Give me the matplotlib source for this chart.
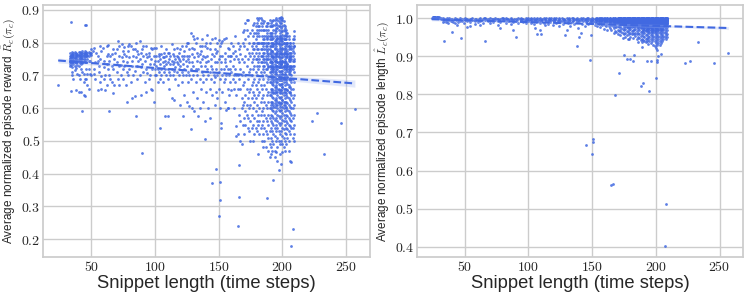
import numpy as np
import seaborn as sns
from matplotlib import pyplot as plt
from matplotlib.ticker import FuncFormatter, MultipleLocator

# values: (snippet length, [values at that length])
reward_short = [
    (24, [.671]), (33, [.735, .742, .728, .750]), (34, [.863, .653, .740, .745, .731, .748]),
    (35, [.737, .725, .755, .700, .712]), (36, [.745, .760, .690, .735, .748]),
    (37, [.742, .730, .752, .718]), (38, [.655, .745, .738, .760, .722]),
    (39, [.740, .748, .733, .705]), (40, [.745, .700, .760, .650, .728]),
    (41, [.748, .738, .690, .752]), (42, [.745, .650, .735, .755, .72]),
    (43, [.592, .742, .768, .750, .71]), (44, [.640, .745, .758, .705, .68]),
    (45, [.855, .636, .74, .77, .69]), (46, [.855, .76, .69, .72]), (47, [.67, .75, .705]),
    (48, [.72, .76, .66]), (49, [.705, .745]), (50, [.70, .78, .77]),
    (52, [.783, .72, .705]), (53, [.74, .69]), (55, [.743, .76, .655]), (56, [.71, .73]),
    (57, [.68, .75]), (58, [.697, .775, .66]), (60, [.727, .745, .69]), (61, [.70, .655]),
    (62, [.79, .735, .67]), (63, [.793, .72]), (64, [.59, .745, .70]), (65, [.758, .69]),
    (66, [.73, .68, .765]), (67, [.645, .72]), (68, [.672, .75]), (70, [.78, .71, .74]),
    (71, [.804, .69]), (72, [.73, .76, .67]), (73, [.732, .70]), (74, [.795, .755]),
    (75, [.745, .69, .72]), (76, [.788, .73]), (77, [.67, .76]), (78, [.62, .74, .71]),
    (79, [.775, .70]), (80, [.755, .72]), (81, [.68, .79]), (82, [.63, .745, .73]),
    (83, [.76, .70]), (84, [.636, .78, .715]), (85, [.575, .755, .80]), (86, [.73, .69]),
    (87, [.765, .745]), (88, [.804, .70, .75]), (89, [.725, .64]), (90, [.462, .78, .735]),
    (91, [.71, .76]), (92, [.745, .68]), (93, [.65, .79, .72]), (94, [.707, .755]),
    (95, [.77, .69]), (96, [.735, .70]), (97, [.66, .75]), (98, [.656, .72, .78]),
    (99, [.62, .735, .76]), (100, [.70, .745, .72]),
]
# the tight clump around 0.75 at the short end, plus the upper scatter up to 100
reward_short_clump = [
    (33, [.752, .745, .768, .76]), (34, [.758, .737, .764, .757]), (35, [.748, .762, .771, .766]),
    (36, [.753, .741, .769, .761]), (37, [.757, .747, .765, .772]), (38, [.751, .764, .769]),
    (39, [.756, .744, .767, .761]), (40, [.762, .75, .771]), (41, [.744, .758, .765, .772]),
    (42, [.761, .749, .768]), (43, [.755, .739, .762, .774]), (44, [.763, .751, .77]),
    (45, [.748, .757, .766, .775]), (46, [.766, .742, .771]), (47, [.759, .768, .762]),
    (48, [.744, .773]), (49, [.766, .77]), (50, [.762]), (51, [.775]),
    (54, [.77]), (57, [.79]), (59, [.785]), (62, [.76]), (63, [.765]), (67, [.78]), (69, [.77]),
    (72, [.79]), (75, [.775]), (76, [.765]), (79, [.79]), (80, [.795]), (83, [.78]), (86, [.775]),
    (89, [.77]), (91, [.79]), (93, [.765]), (95, [.76]), (97, [.785]), (99, [.785]),
]
reward_mid = [
    (101, [.73, .70, .76]), (102, [.745, .68, .72]), (103, [.76, .71]), (104, [.54, .735, .75, .69]),
    (105, [.72, .765, .70]), (106, [.74, .68, .755]), (107, [.73, .71, .77]), (108, [.576, .745, .72]),
    (109, [.76, .70, .735]), (110, [.575, .74, .72, .77, .69]), (111, [.75, .71, .66]),
    (112, [.735, .76, .70]), (113, [.72, .745, .63]), (114, [.765, .70, .735]),
    (115, [.626, .74, .715, .78]), (116, [.75, .69, .725]), (117, [.71, .76, .74]),
    (118, [.735, .67, .755]), (119, [.72, .77, .70]), (120, [.745, .61, .73, .78]),
    (121, [.71, .76, .68]), (122, [.576, .735, .75, .70]), (123, [.76, .72, .64]),
    (124, [.745, .70, .79]), (125, [.73, .62, .76]), (126, [.80, .71, .68, .75]),
    (127, [.606, .74, .70, .78]), (128, [.535, .83, .72, .69]), (129, [.765, .60, .74]),
    (130, [.82, .70, .73, .65]), (131, [.59, .755, .78]), (132, [.72, .68, .80]),
    (133, [.815, .745, .63, .70]), (134, [.576, .76, .72]), (135, [.69, .79, .74, .60]),
    (136, [.73, .66, .775]), (137, [.81, .71, .75]), (138, [.76, .62, .70, .68]),
    (139, [.505, .56, .79, .73]), (140, [.74, .69, .80, .65]), (141, [.823, .72, .76]),
    (142, [.60, .70, .745]), (143, [.57, .78, .71, .66]), (144, [.75, .69, .73]),
    (145, [.37, .81, .72, .64]), (146, [.76, .70, .68]), (147, [.813, .74, .61, .695]),
    (148, [.415, .77, .72, .65]), (149, [.80, .70, .74, .63]), (150, [.27, .808, .71, .66, .75]),
    (151, [.32, .375, .76, .69, .60]), (152, [.555, .54, .74, .72, .80]),
    (153, [.70, .76, .65]), (154, [.81, .72, .68]), (155, [.75, .69, .74, .62]),
    (156, [.596, .813, .70, .73]), (157, [.60, .60, .66, .76, .72]), (158, [.78, .70, .64]),
    (159, [.745, .68, .72]), (160, [.80, .71, .655, .76]), (161, [.73, .69, .77]),
    (162, [.66, .75, .70, .60]), (163, [.82, .72, .68]), (164, [.515, .545, .76, .70, .64]),
    (165, [.24, .52, .75, .70, .66]), (166, [.33, .425, .58, .74, .69, .78]),
    (167, [.50, .72, .79, .66, .56]), (168, [.49, .60, .75, .70, .63]),
    (169, [.833, .80, .71, .55, .67, .61]), (170, [.79, .74, .68, .57, .52, .84, .62]),
    (171, [.86, .81, .76, .70, .64, .59, .55]), (172, [.869, .84, .78, .73, .66, .61, .58]),
    (173, [.87, .82, .75, .69, .63, .57, .54]), (174, [.80, .77, .71, .65, .60, .53]),
    (175, [.83, .76, .72, .66, .61, .56, .50]),
]
# upper band of the middle scatter
reward_mid_upper = [
    (101, [.785]), (103, [.765]), (105, [.79]), (107, [.755]), (109, [.78]), (111, [.77]),
    (113, [.795]), (115, [.76]), (117, [.785]), (119, [.75]), (121, [.79]), (123, [.775]),
    (125, [.80]), (127, [.76]), (129, [.785]), (131, [.81]), (133, [.77]), (135, [.765]),
    (137, [.79]), (139, [.755]), (141, [.785]), (143, [.80]), (145, [.765]), (147, [.78]),
    (149, [.775]), (151, [.79]), (153, [.805]), (155, [.77]), (157, [.785]), (159, [.76]),
    (161, [.79]), (163, [.775]), (165, [.80]), (167, [.765]),
]
reward_dense = [
    (176, [.79, .74, .70, .67, .63, .58, .54]),
    (177, [.82, .78, .72, .68, .65, .60, .55, .50]),
    (178, [.80, .76, .73, .69, .64, .62, .57, .52]),
    (179, [.85, .81, .77, .71, .67, .63, .59, .54]),
    (180, [.875, .84, .80, .75, .70, .66, .61, .56, .53]),
    (181, [.87, .83, .78, .74, .72, .68, .64, .58, .55, .46]),
    (182, [.875, .85, .82, .77, .73, .69, .65, .60, .56, .52]),
    (183, [.86, .80, .76, .71, .67, .62, .58, .54]),
    (184, [.85, .82, .78, .74, .70, .66, .63, .59, .55, .50]),
    (185, [.86, .81, .77, .72, .69, .64, .60, .56, .52, .48]),
    (186, [.84, .80, .75, .71, .67, .62, .58, .54, .50]),
    (187, [.85, .82, .78, .74, .70, .66, .61, .57, .53, .48]),
    (188, [.86, .83, .79, .75, .72, .68, .64, .60, .56, .52, .325]),
    (189, [.84, .80, .76, .73, .69, .65, .62, .58, .55, .51, .47]),
    (190, [.87, .83, .79, .75, .71, .68, .64, .60, .57, .53, .49, .45]),
    (191, [.86, .83, .81, .79, .76, .74, .72, .70, .68, .66, .64, .62, .60, .58, .56, .54, .51, .48, .46]),
    (192, [.85, .82, .80, .775, .755, .735, .715, .695, .675, .655, .635, .615, .595, .575, .555, .53, .50, .47]),
    (193, [.87, .84, .815, .79, .77, .75, .73, .71, .69, .67, .65, .63, .61, .59, .57, .55, .52, .49, .38]),
    (194, [.855, .83, .805, .785, .765, .745, .725, .705, .685, .665, .645, .625, .605, .585, .565, .54, .515, .47, .45]),
    (195, [.86, .835, .81, .79, .77, .75, .73, .71, .69, .67, .65, .63, .61, .59, .57, .55, .53, .50, .465]),
    (196, [.87, .845, .82, .80, .78, .76, .74, .72, .70, .68, .66, .64, .62, .60, .58, .56, .54, .51, .48, .44]),
    (197, [.865, .84, .815, .795, .775, .755, .735, .715, .695, .675, .655, .635, .615, .595, .575, .555, .53, .50, .41]),
    (198, [.875, .85, .83, .81, .79, .77, .75, .73, .71, .69, .67, .65, .63, .61, .59, .57, .55, .52, .49, .46]),
    (199, [.88, .86, .835, .815, .795, .775, .755, .735, .715, .695, .675, .655, .635, .615, .595, .575, .555, .53, .50, .43]),
    (200, [.87, .85, .825, .805, .785, .765, .745, .725, .705, .685, .665, .645, .625, .605, .585, .565, .54, .515, .49, .465]),
    (201, [.865, .84, .82, .80, .78, .76, .74, .72, .70, .68, .66, .64, .62, .60, .58, .56, .535, .51, .48]),
    (202, [.85, .835, .81, .79, .77, .75, .73, .71, .69, .67, .65, .63, .61, .59, .57, .55, .525, .50, .47]),
    (203, [.84, .82, .80, .78, .76, .74, .72, .70, .68, .66, .64, .62, .60, .58, .56, .54, .52, .49]),
    (204, [.83, .80, .775, .755, .735, .715, .695, .675, .655, .635, .615, .595, .575, .555, .535, .51]),
    (205, [.82, .79, .77, .75, .73, .71, .69, .67, .65, .63, .61, .59, .57, .55, .53, .50, .47]),
    (206, [.80, .77, .745, .725, .705, .685, .665, .645, .625, .605, .585, .565, .545, .52, .44]),
    (207, [.78, .75, .72, .70, .68, .66, .64, .62, .60, .58, .56, .54, .437, .18]),
    (208, [.81, .76, .73, .69, .66, .63, .60, .57, .54, .51, .232]),
    (209, [.835, .82, .79, .75, .71, .68, .64, .61, .58, .55, .52, .50]),
]
# upper half of the dense block, which is more crowded than the lower half
reward_dense_top = [
    (176, [.84, .77]), (177, [.855, .80, .75]), (178, [.86, .83, .78]), (179, [.83, .79, .75]),
    (180, [.86, .82, .78, .73]), (181, [.85, .80, .76]), (182, [.84, .80, .75]),
    (183, [.875, .84, .78, .74]), (184, [.87, .80, .76]),
    (185, [.84, .79, .75, .80, .76, .73]), (186, [.865, .82, .78, .73, .81, .77, .74]),
    (187, [.84, .80, .76, .79, .75, .72]), (188, [.85, .81, .77, .815, .775, .735]),
    (189, [.86, .82, .78, .75, .80, .765, .725]), (190, [.85, .81, .77, .73, .82, .78, .74]),
    (191, [.85, .82, .775, .745, .71, .80, .765, .725]), (192, [.865, .83, .79, .76, .725, .81, .775, .74]),
    (193, [.855, .80, .76, .72, .68, .795, .755, .72]), (194, [.87, .84, .795, .755, .715, .82, .78, .745]),
    (195, [.875, .845, .80, .76, .72, .68, .805, .765, .73]), (196, [.855, .81, .77, .73, .69, .815, .775, .74]),
    (197, [.875, .85, .805, .765, .725, .685, .80, .76, .725]), (198, [.86, .82, .78, .74, .70, .82, .785, .745]),
    (199, [.87, .845, .805, .765, .725, .685, .81, .77, .735]),
    (200, [.875, .835, .795, .755, .715, .675, .815, .78, .74]),
    (201, [.855, .81, .77, .73, .69, .80, .765, .725]), (202, [.845, .825, .785, .745, .705, .81, .775, .735]),
    (203, [.83, .81, .77, .73, .69, .795, .755, .72]), (204, [.82, .79, .765, .725, .80, .765, .73]),
    (205, [.81, .78, .76, .72, .79, .75, .72]), (206, [.80, .76, .755, .715, .785, .75]),
    (207, [.79, .77, .73, .69, .76, .725]), (208, [.80, .785, .745, .775, .72]),
    (209, [.81, .77, .73, .79, .745]),
]
# solid middle of the dense block
reward_dense_mid = [
    (191, [.73, .69, .65, .61]), (192, [.74, .70, .66, .62]), (193, [.725, .685, .645, .605]),
    (194, [.735, .695, .655, .615]), (195, [.745, .705, .665, .625]), (196, [.73, .69, .65, .61]),
    (197, [.74, .70, .66, .62]), (198, [.725, .685, .645, .605]), (199, [.735, .695, .655, .615]),
    (200, [.745, .705, .665, .625]), (201, [.73, .69, .65, .61]), (202, [.74, .70, .66, .62]),
    (203, [.725, .685, .645, .605]), (204, [.735, .695, .655]), (205, [.745, .705, .665]),
    (206, [.73, .69, .65]),
]
reward_far = [(223, [.56]), (227, [.585]), (233, [.46]), (246, [.555]), (257, [.597])]

length_short = [
    (24, [1.0]), (25, [1.003, 1.002]), (26, [1.004, 1.003]), (27, [1.003, 1.004]),
    (28, [1.002, 1.003]), (29, [1.003]), (30, [1.002, 1.0]), (31, [1.0, .998]),
    (33, [.995, .99, .999]), (34, [.94, .993, .998]), (35, [.996, .99]), (36, [.999, .992]),
    (37, [.997, .988]), (38, [.994, .999]), (39, [.991, .997]), (40, [.963, .998, .993]),
    (41, [.996, .99]), (42, [.999, .986]), (43, [.994, .997]), (44, [.981, .998]),
    (45, [.995, .99]), (46, [.999, .993]), (47, [.949, .996]), (48, [.992, .998]),
    (49, [.997, .987]), (50, [.995, .999]), (51, [.997]), (52, [.976, .998, .993]),
    (53, [.996]), (54, [.997, .978, .99]), (55, [.998]), (56, [.999, .994]), (57, [.995]),
    (58, [.992, .998, .985]), (59, [.997]), (60, [.996, .99]), (61, [.998]),
    (62, [.999, .993, .983]), (63, [.996]), (64, [.997, .988]), (65, [.999]),
    (66, [.995, .939, .999]), (67, [.997]), (68, [.998, .991]), (69, [.996]),
    (70, [.993, .999, .986]), (71, [.998]), (72, [.997, .99]), (73, [.995]), (74, [.999, .994]),
    (75, [.997]), (76, [.992, .998, .983]), (77, [.996]), (78, [.973, .997, .99]), (79, [.999]),
    (80, [.999, .995]), (81, [.997]), (82, [.996, .988, .999]), (83, [.998]), (84, [.993, .998]),
    (85, [.996]), (86, [.985, .997, .999]), (87, [.995]), (88, [.97, .995, .99]), (89, [.998]),
    (90, [.95, .998, .993]), (91, [.996]), (92, [.999, .987]), (93, [.997]),
    (94, [.996, .992, .999]), (95, [.998]), (96, [.99, .997]), (97, [.995]),
    (98, [.999, .994, .986]), (99, [.997]), (100, [.996, .991, .999]),
]
length_mid = [
    (101, [.998, .992]), (102, [.995, .999, .987]), (103, [.997, .989]), (104, [.999, .994, .984]),
    (105, [.973, .996]), (106, [.998, .99]), (107, [.958, .995, .999]), (108, [.993, .997]),
    (109, [.97, .999, .986]), (110, [.958, .996, .991]), (111, [.998, .994]), (112, [.999, .988]),
    (113, [.995, .997, .982]), (114, [.999, .992]), (115, [.996, .985]), (116, [.998, .993, .999]),
    (117, [.99, .997]), (118, [.999, .994]), (119, [.983, .996]), (120, [.998, .991, .999]),
    (121, [.994, .997]), (122, [.999, .987]), (123, [.996, .992]), (124, [.998, .98, .999]),
    (125, [.995, .989]), (126, [.999, .993]), (127, [.997, .985]), (128, [.998, .994, .99]),
    (129, [.956, .996]), (130, [.999, .968, .991]), (131, [.997, .986]), (132, [.998, .993, .999]),
    (133, [.995, .978]), (134, [.999, .99]), (135, [.996, .992, .999]), (136, [.998, .984]),
    (137, [.994, .997]), (138, [.926, .999, .989]), (139, [.996, .975]), (140, [.95, .998, .992]),
    (141, [.96, .994, .999]), (142, [.997, .985]), (143, [.999, .991]), (144, [.995, .998, .98]),
    (145, [.667, .997, .99]), (146, [.999, .993]), (147, [.996, .985, .999]),
    (148, [.891, .998, .99]), (149, [.956, .996, .993]), (150, [.644, .999, .988, .995]),
    (151, [.674, .684, .997, .992]), (152, [.998, .99, .983]),
    (153, [.999, .994, .986]), (154, [.997, .99, .98]), (155, [.999, .993, .985]),
    (156, [.996, .988, .976]), (157, [.999, .992, .984]), (158, [.997, .99, .981]),
    (159, [.999, .995, .986, .972]), (160, [.998, .991, .983]), (161, [.996, .989, .978]),
    (162, [.999, .993, .985, .97]), (163, [.997, .99, .98]), (164, [.999, .994, .987, .975]),
    (165, [.561, .998, .991, .982, .968]), (166, [.564, .999, .995, .988, .978]),
    (167, [.997, .992, .984, .974, .962]), (168, [.799, .999, .994, .987, .979, .966]),
    (169, [.998, .992, .985, .976, .963]), (170, [.999, .995, .988, .98, .97, .958]),
    (171, [.857, .998, .992, .985, .976, .965]), (172, [.999, .994, .987, .979, .969, .955]),
    (173, [.998, .991, .984, .975, .964]), (174, [.999, .995, .989, .981, .972, .96, .948]),
    (175, [.903, .998, .992, .985, .977, .968, .957]),
]
length_dense = [
    (176, [.999, .994, .988, .98, .971, .962, .95]),
    (177, [.892, .998, .991, .984, .976, .966, .955]),
    (178, [.999, .995, .989, .982, .973, .963, .946]),
    (179, [.998, .992, .985, .977, .968, .958, .945]),
    (180, [.893, .999, .995, .988, .98, .972, .962, .95]),
    (181, [.998, .991, .984, .976, .967, .957]),
    (182, [.887, .999, .994, .987, .979, .97, .96, .948]),
    (183, [.904, .998, .992, .985, .977, .968, .958]),
    (184, [.999, .995, .989, .981, .972, .962, .952]),
    (185, [.998, .991, .984, .976, .967, .957, .944]),
    (186, [.999, .994, .988, .98, .971, .961, .95, .938]),
    (187, [.998, .992, .985, .977, .968, .958, .947]),
    (188, [.822, .999, .995, .989, .981, .973, .964, .954, .942]),
    (189, [.923, .998, .991, .984, .976, .967, .957, .946, .936]),
    (190, [.83, .999, .994, .988, .98, .972, .963, .953, .943]),
    (191, [.998, .992, .985, .977, .969, .96, .95, .94]),
    (192, [.999, .995, .989, .982, .974, .965, .956, .946, .936]),
    (193, [.887, .998, .991, .984, .976, .968, .959, .949, .939]),
    (194, [.999, .994, .988, .98, .972, .963, .954, .944, .932]),
    (195, [.808, .998, .992, .985, .977, .969, .96, .951, .941]),
    (196, [.888, .999, .995, .989, .981, .973, .964, .955, .945, .934]),
    (197, [.998, .991, .984, .976, .968, .959, .95, .94]),
    (198, [.999, .994, .988, .98, .972, .963, .954, .944, .93]),
    (199, [.998, .992, .985, .977, .969, .96, .951, .941, .928]),
    (200, [.844, .999, .995, .989, .981, .973, .964, .955, .945, .935, .922]),
    (201, [.884, .889, .998, .991, .984, .976, .968, .959, .95, .94, .93, .915]),
    (202, [.999, .994, .988, .98, .972, .963, .954, .944, .934, .9]),
    (203, [.998, .992, .985, .977, .969, .96, .951, .941, .93]),
    (204, [.999, .995, .989, .981, .973, .964, .955, .945, .935, .905]),
    (205, [.998, .991, .984, .976, .968, .959, .95, .94]),
    (206, [.999, .994, .988, .98, .972, .963, .954, .944]),
    (207, [.403, .998, .992, .985, .977, .969, .96, .951]),
    (208, [.513, .999, .995, .989, .981, .973, .964, .955, .946]),
    (209, [.998, .991, .984, .976, .968, .959, .95]),
]
# the solid strip just under 1.0 in the dense block
length_dense_top = [
    (170, [.997, .993, .99]), (171, [.999, .996, .989]), (172, [.997, .991, .984]),
    (173, [.999, .995, .988]), (174, [.997, .992, .986]), (175, [.999, .996, .989]),
    (176, [.997, .991, .985, .982]), (177, [.999, .995, .988, .98]), (178, [.997, .992, .986, .978]),
    (179, [.999, .996, .989, .981]), (180, [.997, .991, .984, .977]), (181, [.999, .995, .988, .981]),
    (182, [.997, .991, .985, .98]), (183, [.999, .995, .989, .982]), (184, [.997, .992, .986, .978]),
    (185, [.999, .995, .988, .981]), (186, [.997, .991, .985, .976]), (187, [.999, .995, .989, .98]),
    (188, [.997, .992, .985, .977]), (189, [.999, .995, .988, .98]),
    (190, [.997, .992, .985, .976, .97]), (191, [.999, .995, .989, .981, .973]),
    (192, [.997, .992, .985, .978, .969]), (193, [.999, .995, .988, .98, .972]),
    (194, [.997, .991, .984, .976, .967]), (195, [.999, .995, .989, .981, .973]),
    (196, [.997, .992, .985, .977, .969]), (197, [.999, .995, .988, .98, .972, .964]),
    (198, [.997, .991, .984, .976, .968]), (199, [.999, .995, .989, .981, .973, .965]),
    (200, [.997, .992, .985, .977, .969]), (201, [.999, .995, .988, .98, .972]),
    (202, [.997, .991, .984, .976, .968]), (203, [.999, .995, .989, .981, .973]),
    (204, [.997, .992, .985, .977, .969]), (205, [.999, .995, .988, .98, .972]),
    (206, [.997, .991, .984, .976]), (207, [.999, .995, .988, .98]),
    (208, [.997, .992, .985]), (209, [.999, .995, .988]),
]
# the many overlapping points that sit right at the ceiling
length_ceiling = [
    (153, [.9985, .996]), (154, [.999, .995]), (155, [.9975, .993]), (156, [.999, .996]),
    (157, [.998, .994]), (158, [.9995, .996]), (159, [.998, .993]), (160, [.999, .9965]),
    (161, [.998, .994]), (162, [.9995, .996]), (163, [.998, .993]), (164, [.999, .996]),
    (165, [.998, .994, .99]), (166, [.9995, .996, .991]), (167, [.998, .994, .989]),
    (168, [.999, .996, .99]), (169, [.998, .994, .988]),
    (170, [.9995, .998, .996, .994, .992, .99, .987]), (171, [.999, .997, .995, .993, .991, .988, .986]),
    (172, [.9995, .998, .996, .993, .99, .987, .985]), (173, [.999, .997, .995, .992, .989, .986]),
    (174, [.9995, .998, .996, .994, .991, .988, .985]), (175, [.999, .997, .995, .993, .99, .987]),
    (176, [.9995, .998, .996, .994, .992, .989, .986, .983, .9985, .9965, .9945, .992]),
    (177, [.999, .997, .995, .993, .99, .987, .984, .998, .996, .9935, .991]),
    (178, [.9995, .998, .996, .994, .991, .988, .985, .982, .9985, .9955, .993]),
    (179, [.999, .997, .995, .993, .99, .987, .984, .998, .9965, .994, .9915]),
    (180, [.9995, .998, .996, .994, .992, .989, .986, .983, .9985, .996, .9935]),
    (181, [.999, .997, .995, .993, .991, .988, .985, .998, .9955, .994, .991]),
    (182, [.9995, .998, .996, .994, .991, .989, .986, .983, .9985, .9965, .993]),
    (183, [.999, .997, .995, .993, .99, .987, .984, .998, .996, .9935, .9915]),
    (184, [.9995, .998, .996, .994, .992, .989, .986, .982, .9985, .9955, .994]),
    (185, [.999, .997, .995, .993, .99, .988, .985, .998, .9965, .9935, .991]),
    (186, [.9995, .998, .996, .994, .991, .989, .986, .983, .9985, .996, .994]),
    (187, [.999, .997, .995, .993, .99, .987, .984, .998, .9955, .9935, .9915]),
    (188, [.9995, .998, .996, .994, .992, .989, .986, .983, .9985, .9965, .994]),
    (189, [.999, .997, .995, .993, .991, .988, .985, .998, .996, .9935, .991]),
    (190, [.9995, .998, .996, .994, .992, .99, .987, .984, .981, .9985, .9955, .9935, .9915]),
    (191, [.999, .997, .995, .993, .991, .988, .986, .983, .98, .998, .9965, .994, .992]),
    (192, [.9995, .998, .996, .994, .992, .989, .987, .984, .981, .9985, .996, .9935, .9915]),
    (193, [.999, .997, .995, .993, .99, .988, .985, .982, .979, .998, .9955, .994, .991]),
    (194, [.9995, .998, .996, .994, .992, .99, .987, .984, .981, .9985, .9965, .9935, .9915]),
    (195, [.999, .997, .995, .993, .991, .988, .986, .983, .98, .998, .996, .994, .992]),
    (196, [.9995, .998, .996, .994, .992, .989, .987, .984, .981, .9985, .9955, .9935, .991]),
    (197, [.999, .997, .995, .993, .99, .988, .985, .982, .979, .998, .9965, .994, .9915]),
    (198, [.9995, .998, .996, .994, .992, .99, .987, .984, .981, .9985, .996, .9935, .992]),
    (199, [.999, .997, .995, .993, .991, .988, .986, .983, .98, .998, .9955, .994, .991]),
    (200, [.9995, .998, .996, .994, .992, .989, .987, .984, .981, .9985, .9965, .9935, .9915]),
    (201, [.999, .997, .995, .993, .99, .988, .985, .982, .979, .998, .996, .994, .992]),
    (202, [.9995, .998, .996, .994, .992, .99, .987, .984, .981, .9985, .9955, .9935, .991]),
    (203, [.999, .997, .995, .993, .991, .988, .986, .983, .98, .998, .9965, .994, .9915]),
    (204, [.9995, .998, .996, .994, .992, .989, .987, .984, .9985, .996, .9935]),
    (205, [.999, .997, .995, .993, .99, .988, .985, .982, .998, .9955, .994]),
    (206, [.9995, .998, .996, .994, .992, .99, .987, .9985, .9965, .9935]),
    (207, [.999, .997, .995, .993, .991, .988, .986, .998, .996, .994]),
    (208, [.9995, .998, .996, .994, .992, .989, .9985, .9955]),
    (209, [.999, .997, .995, .993, .99, .988, .998, .9965]),
]
length_far = [(223, [.882]), (227, [.887]), (233, [.937]), (246, [.882]), (257, [.908])]


def flatten(groups):
    xs, ys = [], []
    for group in groups:
        for x, vals in group:
            for v in vals:
                xs.append(x)
                ys.append(v)
    return np.array(xs, float), np.array(ys, float)


def main():
    sns.set_theme(style="whitegrid")
    plt.rcParams['font.family'] = ['Liberation Sans', 'DejaVu Sans']
    plt.rcParams['mathtext.fontset'] = 'cm'

    blue = 'royalblue'
    fig = plt.figure(figsize=(7.47, 2.99), dpi=100)
    ax1 = fig.add_axes([0.058, 0.14, 0.437, 0.843])
    ax2 = fig.add_axes([0.558, 0.14, 0.437, 0.843])

    reward = flatten([reward_short, reward_short_clump, reward_mid, reward_mid_upper,
                      reward_dense, reward_dense_top, reward_dense_mid, reward_far])
    length = flatten([length_short, length_mid, length_dense, length_dense_top,
                      length_ceiling, length_far])
    panels = [
        (ax1, reward, r'Average normalized episode reward $\hat{R}_c(\pi_c)$'),
        (ax2, length, r'Average normalized episode length $\hat{L}_c(\pi_c)$'),
    ]

    xfmt = FuncFormatter(lambda v, p: '$%d$' % round(v))
    yfmt = FuncFormatter(lambda v, p: '$%.1f$' % v)
    for ax, (x, y), ylab in panels:
        sns.regplot(x=x, y=y, ax=ax, color=blue, seed=0,
                    scatter_kws={'s': 4, 'linewidths': 0, 'alpha': 0.85},
                    line_kws={'linestyle': '--', 'linewidth': 1.5})
        ax.set_xlabel('Snippet length (time steps)', fontsize=13.2, labelpad=1)
        ax.set_ylabel(ylab, fontsize=8.5)
        ax.yaxis.set_label_coords(-0.08, 0.5)
        ax.xaxis.set_major_locator(MultipleLocator(50))
        ax.yaxis.set_major_locator(MultipleLocator(0.1))
        ax.xaxis.set_major_formatter(xfmt)
        ax.yaxis.set_major_formatter(yfmt)
        ax.tick_params(labelsize=10, pad=2, length=0)

    fig.savefig('out.png', dpi=100)


if __name__ == "__main__":
    main()
